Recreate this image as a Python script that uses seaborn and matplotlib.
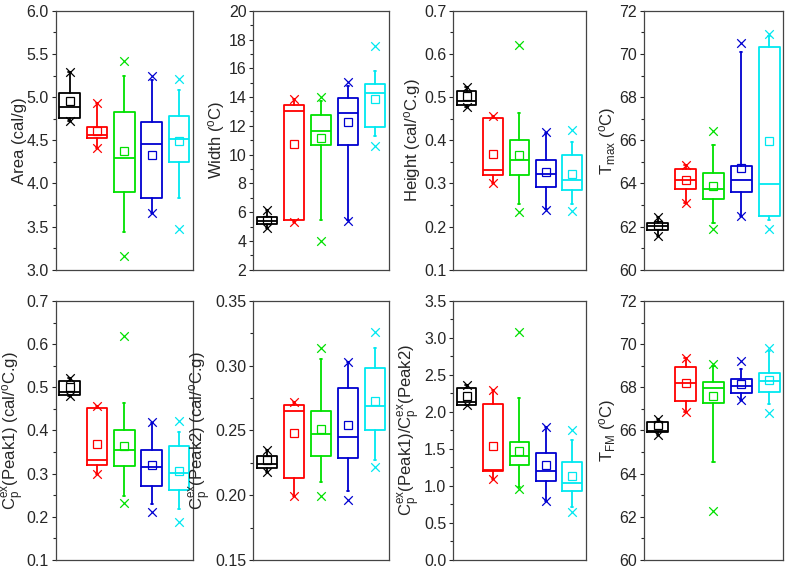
import numpy as np
import matplotlib
matplotlib.use("Agg")
import matplotlib.pyplot as plt
import seaborn as sns

sns.set_style("ticks")
plt.rcParams['font.family'] = ['Liberation Sans', 'DejaVu Sans']
plt.rcParams['mathtext.default'] = 'regular'

groups = [1, 2, 3, 4, 5]
colors = ['#000000', '#FF0000', '#00E000', '#0000D0', '#00E8F0']

# box statistics per panel: q1, median, q3, mean, whisker low/high, x-marks (min/max)
area = dict(q1=[4.76, 4.53, 3.90, 3.83, 4.25], med=[4.88, 4.56, 4.30, 4.46, 4.52],
            q3=[5.05, 4.65, 4.83, 4.71, 4.78], mean=[4.95, 4.61, 4.37, 4.33, 4.49],
            wlo=[4.72, 4.41, 3.44, 3.66, 3.83], whi=[5.29, 4.93, 5.25, 5.20, 5.08],
            xlo=[4.72, 4.41, 3.16, 3.66, 3.47], xhi=[5.29, 4.93, 5.42, 5.25, 5.21])
width = dict(q1=[5.15, 5.48, 10.64, 10.64, 11.94], med=[5.40, 13.05, 11.61, 12.89, 14.32],
             q3=[5.68, 13.44, 12.73, 13.91, 14.93], mean=[5.45, 10.73, 11.13, 12.24, 13.88],
             wlo=[4.90, 5.29, 5.48, 5.48, 11.27], whi=[6.12, 13.86, 13.70, 14.79, 15.85],
             xlo=[4.90, 5.30, 3.99, 5.40, 10.62], xhi=[6.12, 13.86, 14.00, 15.02, 17.57])
height = dict(q1=[0.482, 0.320, 0.320, 0.292, 0.284], med=[0.492, 0.332, 0.355, 0.322, 0.309],
              q3=[0.515, 0.451, 0.401, 0.355, 0.366], mean=[0.502, 0.367, 0.365, 0.326, 0.321],
              wlo=[0.478, 0.300, 0.253, 0.241, 0.253], whi=[0.523, 0.457, 0.464, 0.417, 0.395],
              xlo=[0.478, 0.300, 0.234, 0.239, 0.237], xhi=[0.523, 0.457, 0.621, 0.420, 0.424])
tmax = dict(q1=[61.86, 63.76, 63.27, 63.59, 62.48], med=[62.03, 64.18, 63.76, 64.18, 63.99],
            q3=[62.17, 64.67, 64.49, 64.80, 70.32], mean=[62.06, 64.15, 63.88, 64.73, 65.97],
            wlo=[61.55, 63.08, 62.17, 62.48, 62.29], whi=[62.42, 64.87, 65.78, 70.11, 70.84],
            xlo=[61.55, 63.08, 61.88, 62.48, 61.88], xhi=[62.42, 64.87, 66.45, 70.53, 70.93])
peak1 = dict(q1=[0.481, 0.320, 0.318, 0.271, 0.261], med=[0.489, 0.331, 0.355, 0.315, 0.302],
             q3=[0.514, 0.451, 0.402, 0.355, 0.365], mean=[0.500, 0.368, 0.364, 0.319, 0.306],
             wlo=[0.479, 0.300, 0.247, 0.230, 0.217], whi=[0.522, 0.457, 0.463, 0.418, 0.396],
             xlo=[0.479, 0.300, 0.232, 0.211, 0.188], xhi=[0.522, 0.457, 0.620, 0.420, 0.423])
peak2 = dict(q1=[0.221, 0.213, 0.230, 0.229, 0.250], med=[0.224, 0.265, 0.247, 0.245, 0.269],
             q3=[0.230, 0.270, 0.265, 0.283, 0.298], mean=[0.227, 0.248, 0.251, 0.254, 0.273],
             wlo=[0.218, 0.199, 0.210, 0.203, 0.227], whi=[0.235, 0.272, 0.305, 0.303, 0.314],
             xlo=[0.218, 0.199, 0.199, 0.196, 0.222], xhi=[0.235, 0.272, 0.314, 0.303, 0.326])
ratio = dict(q1=[2.10, 1.20, 1.28, 1.07, 0.93], med=[2.13, 1.22, 1.40, 1.20, 1.04],
             q3=[2.33, 2.11, 1.60, 1.45, 1.32], mean=[2.22, 1.54, 1.47, 1.28, 1.13],
             wlo=[2.09, 1.10, 0.98, 0.79, 0.71], whi=[2.36, 2.30, 2.19, 1.80, 1.62],
             xlo=[2.09, 1.10, 0.96, 0.79, 0.65], xhi=[2.36, 2.30, 3.08, 1.80, 1.75])
tfm = dict(q1=[65.92, 67.38, 67.28, 67.72, 67.79], med=[65.98, 68.18, 67.99, 68.06, 68.30],
           q3=[66.40, 68.95, 68.26, 68.40, 68.67], mean=[66.27, 68.18, 67.60, 68.13, 68.33],
           wlo=[65.79, 66.87, 64.55, 67.41, 67.22], whi=[66.53, 69.38, 69.00, 68.84, 69.69],
           xlo=[65.79, 66.87, 62.28, 67.41, 66.80], xhi=[66.53, 69.38, 69.07, 69.23, 69.81])

panels = [
    (area, 'Area (cal/g)', (3.0, 6.0), 0.5, '%.1f'),
    (width, 'Width ($^{o}$C)', (2, 20), 2, '%d'),
    (height, 'Height (cal/$^{o}$C.g)', (0.1, 0.7), 0.1, '%.1f'),
    (tmax, 'T$_{max}$ ($^{o}$C)', (60, 72), 2, '%d'),
    (peak1, 'C$_{p}^{ex}$(Peak1) (cal/$^{o}$C.g)', (0.1, 0.7), 0.1, '%.1f'),
    (peak2, 'C$_{p}^{ex}$(Peak2) (cal/$^{o}$C.g)', (0.15, 0.35), 0.05, '%.2f'),
    (ratio, 'C$_{p}^{ex}$(Peak1)/C$_{p}^{ex}$(Peak2)', (0.0, 3.5), 0.5, '%.1f'),
    (tfm, 'T$_{FM}$ ($^{o}$C)', (60, 72), 2, '%d'),
]

lefts = [0.071, 0.322, 0.576, 0.818]
widths = [0.174, 0.172, 0.168, 0.177]
bottoms = [0.526, 0.016]
hgt = 0.455

fig = plt.figure(figsize=(7.87, 5.69), dpi=100)

for i, (d, label, ylim, step, fmt) in enumerate(panels):
    r, c = divmod(i, 4)
    ax = fig.add_axes([lefts[c], bottoms[r], widths[c], hgt])
    for k, pos in enumerate(groups):
        st = dict(q1=d['q1'][k], med=d['med'][k], q3=d['q3'][k], mean=d['mean'][k],
                  whislo=d['wlo'][k], whishi=d['whi'][k], fliers=[])
        col = colors[k]
        ax.bxp([st], positions=[pos], widths=0.75, showmeans=True, capwidths=0.08,
               boxprops=dict(color=col, lw=1.3),
               medianprops=dict(color=col, lw=1.3),
               whiskerprops=dict(color=col, lw=1.3),
               capprops=dict(color=col, lw=1.3),
               meanprops=dict(marker='s', mfc='none', mec=col, ms=6, mew=0.9))
        ax.scatter([pos, pos], [d['xlo'][k], d['xhi'][k]], marker='x', s=38,
                   color=col, linewidths=0.9, zorder=3)
    ax.set_xlim(0.5, 5.5)
    ax.set_ylim(*ylim)
    ax.set_yticks(np.arange(ylim[0], ylim[1] + step / 2, step))
    ax.yaxis.set_major_formatter(matplotlib.ticker.FormatStrFormatter(fmt))
    ax.yaxis.set_minor_locator(matplotlib.ticker.AutoMinorLocator(2))
    ax.set_xticks([])
    ax.tick_params(axis='y', which='major', length=3, width=0.8, labelsize=11.5, pad=2)
    ax.tick_params(axis='y', which='minor', length=2, width=0.8)
    ax.set_ylabel(label, fontsize=12, labelpad=1 if c else 0)
    for s in ax.spines.values():
        s.set_color('#444444')
        s.set_linewidth(0.9)

fig.savefig('out.png', dpi=100)
